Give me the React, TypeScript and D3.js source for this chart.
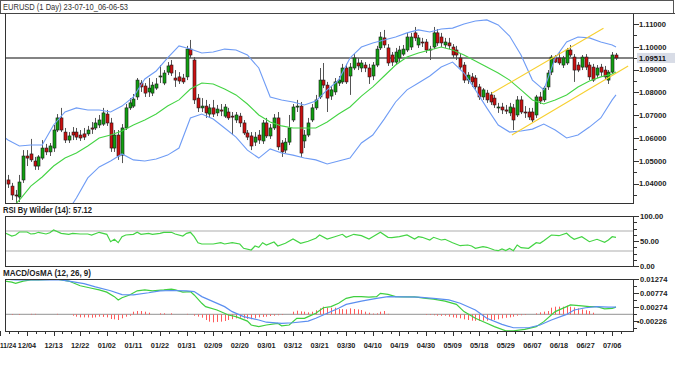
import React from 'react';
import * as d3 from 'd3';

// ---------- price data (daily candles, bar index 0..160) ----------
const openP = [
  1.0416,1.0389,1.0350,1.0341,1.0416,1.0521,1.0530,1.0499,1.0477,1.0512,
  1.0556,1.0539,1.0556,1.0635,1.0688,1.0626,1.0591,1.0626,1.0626,1.0613,
  1.0618,1.0618,1.0644,1.0644,1.0657,1.0661,1.0705,1.0666,1.0556,1.0613,
  1.0525,1.0644,1.0732,1.0740,1.0780,1.0841,1.0828,1.0802,1.0797,1.0819,
  1.0868,1.0841,1.0889,1.0920,1.0863,1.0868,1.0863,1.0868,1.0990,1.0942,
  1.0775,1.0732,1.0740,1.0705,1.0732,1.0710,1.0723,1.0696,1.0714,1.0696,
  1.0679,1.0696,1.0666,1.0622,1.0609,1.0582,1.0613,1.0587,1.0666,1.0609,
  1.0644,1.0688,1.0578,1.0547,1.0582,1.0679,1.0736,1.0740,1.0587,1.0613,
  1.0679,1.0732,1.0780,1.0854,1.0832,1.0784,1.0802,1.0841,1.0846,1.0907,
  1.0872,1.0907,1.0929,1.0907,1.0920,1.0907,1.0872,1.0920,1.0995,1.1039,
  1.0995,1.0964,1.0933,1.0951,1.0968,1.0986,1.0999,1.1061,1.1008,1.1021,
  1.1021,1.0986,1.0999,1.1061,1.1043,1.1008,1.1017,1.0999,1.0986,1.0951,
  1.0920,1.0854,1.0868,1.0863,1.0824,1.0780,1.0797,1.0789,1.0775,1.0732,
  1.0736,1.0723,1.0710,1.0732,1.0701,1.0767,1.0714,1.0714,1.0714,1.0701,
  1.0780,1.0767,1.0824,1.0889,1.0951,1.0951,1.0920,1.0929,1.0986,1.0955,
  1.0920,1.0911,1.0955,1.0920,1.0911,1.0876,1.0911,1.0898,1.0854,1.0889,
  1.0964,
];
const highP = [
  1.0438,1.0403,1.0372,1.0438,1.0547,1.0547,1.0596,1.0517,1.0525,1.0591,
  1.0574,1.0578,1.0657,1.0705,1.0732,1.0644,1.0626,1.0648,1.0644,1.0635,
  1.0644,1.0653,1.0670,1.0688,1.0701,1.0732,1.0723,1.0688,1.0635,1.0635,
  1.0661,1.0749,1.0775,1.0793,1.0863,1.0854,1.0841,1.0863,1.0846,1.0863,
  1.0920,1.0898,1.0933,1.0942,1.0898,1.0889,1.0881,1.1004,1.1030,1.0955,
  1.0793,1.0775,1.0767,1.0749,1.0767,1.0745,1.0749,1.0749,1.0732,1.0714,
  1.0714,1.0710,1.0679,1.0635,1.0626,1.0626,1.0635,1.0679,1.0688,1.0661,
  1.0705,1.0714,1.0591,1.0600,1.0701,1.0749,1.0767,1.0758,1.0635,1.0688,
  1.0749,1.0789,1.0907,1.0929,1.0846,1.0828,1.0863,1.0872,1.0925,1.0925,
  1.0929,1.0968,1.0951,1.0942,1.0933,1.0925,1.0933,1.1004,1.1065,1.1074,
  1.1012,1.0977,1.0995,1.1004,1.1008,1.1061,1.1061,1.1087,1.1052,1.1039,
  1.1034,1.1004,1.1087,1.1078,1.1061,1.1039,1.1039,1.1012,1.1004,1.0968,
  1.0933,1.0889,1.0885,1.0876,1.0837,1.0819,1.0811,1.0802,1.0789,1.0754,
  1.0754,1.0745,1.0754,1.0749,1.0784,1.0784,1.0740,1.0732,1.0732,1.0789,
  1.0802,1.0828,1.0898,1.0964,1.0964,1.0977,1.0960,1.0995,1.1008,1.0968,
  1.0933,1.0964,1.0968,1.0933,1.0925,1.0920,1.0925,1.0916,1.0898,1.0977,
  1.0973,
];
const lowP = [
  1.0381,1.0328,1.0315,1.0319,1.0403,1.0477,1.0495,1.0460,1.0460,1.0504,
  1.0525,1.0521,1.0539,1.0626,1.0626,1.0578,1.0578,1.0591,1.0591,1.0587,
  1.0591,1.0609,1.0618,1.0635,1.0644,1.0653,1.0653,1.0539,1.0539,1.0504,
  1.0490,1.0635,1.0723,1.0732,1.0767,1.0802,1.0780,1.0780,1.0784,1.0811,
  1.0841,1.0832,1.0876,1.0872,1.0824,1.0837,1.0837,1.0854,1.0951,1.0749,
  1.0714,1.0714,1.0688,1.0688,1.0692,1.0696,1.0696,1.0688,1.0679,1.0613,
  1.0666,1.0648,1.0613,1.0591,1.0547,1.0565,1.0574,1.0574,1.0600,1.0596,
  1.0635,1.0547,1.0517,1.0534,1.0569,1.0670,1.0714,1.0517,1.0556,1.0604,
  1.0670,1.0723,1.0771,1.0819,1.0714,1.0767,1.0789,1.0828,1.0837,1.0837,
  1.0789,1.0898,1.0898,1.0889,1.0889,1.0837,1.0854,1.0911,1.0986,1.0995,
  1.0916,1.0916,1.0920,1.0933,1.0960,1.0977,1.0986,1.1025,1.0995,1.0999,
  1.0973,1.0942,1.0990,1.1004,1.0999,1.0995,1.0990,1.0951,1.0942,1.0898,
  1.0841,1.0837,1.0824,1.0811,1.0767,1.0767,1.0754,1.0745,1.0732,1.0710,
  1.0705,1.0705,1.0696,1.0635,1.0692,1.0705,1.0688,1.0679,1.0670,1.0688,
  1.0749,1.0758,1.0811,1.0876,1.0929,1.0920,1.0907,1.0920,1.0955,1.0846,
  1.0889,1.0898,1.0898,1.0854,1.0846,1.0863,1.0872,1.0854,1.0837,1.0881,
  1.0942,
];
const closeP = [
  1.0398,1.0350,1.0346,1.0407,1.0521,1.0512,1.0504,1.0477,1.0517,1.0556,
  1.0539,1.0565,1.0635,1.0688,1.0635,1.0591,1.0609,1.0613,1.0604,1.0600,
  1.0604,1.0635,1.0639,1.0666,1.0679,1.0710,1.0666,1.0556,1.0613,1.0521,
  1.0644,1.0732,1.0754,1.0771,1.0854,1.0824,1.0797,1.0819,1.0832,1.0837,
  1.0872,1.0885,1.0916,1.0885,1.0854,1.0850,1.0846,1.0990,1.0964,1.0767,
  1.0732,1.0740,1.0710,1.0732,1.0705,1.0727,1.0718,1.0736,1.0688,1.0692,
  1.0701,1.0666,1.0622,1.0604,1.0565,1.0604,1.0591,1.0666,1.0609,1.0644,
  1.0688,1.0561,1.0539,1.0582,1.0644,1.0736,1.0740,1.0534,1.0613,1.0666,
  1.0732,1.0767,1.0854,1.0832,1.0775,1.0811,1.0846,1.0854,1.0907,1.0846,
  1.0911,1.0951,1.0916,1.0929,1.0907,1.0868,1.0920,1.0990,1.1043,1.1008,
  1.0929,1.0933,1.0977,1.0986,1.0990,1.1043,1.1043,1.1039,1.1039,1.1017,
  1.0986,1.0990,1.1061,1.1017,1.1017,1.1021,1.1004,1.0964,1.0964,1.0911,
  1.0854,1.0876,1.0846,1.0824,1.0780,1.0811,1.0767,1.0758,1.0745,1.0736,
  1.0723,1.0718,1.0736,1.0679,1.0767,1.0714,1.0710,1.0692,1.0679,1.0780,
  1.0762,1.0819,1.0885,1.0955,1.0933,1.0929,1.0951,1.0986,1.0964,1.0898,
  1.0898,1.0955,1.0911,1.0868,1.0854,1.0907,1.0889,1.0868,1.0889,1.0964,
  1.0951,
];
const lastPrice = 1.09511;

// ---------- Bollinger bands ----------
const upperBars = [-1,0,3,6,9,12,15,18,21,24,27,30,33,36,39,42,45,48,51,54,57,60,63,66,69,72,75,78,81,84,87,90,93,96,99,102,105,108,111,114,117,120,123,126,129,132,135,138,141,144,147,150,153,156,159,160];
const upperVals = [1.0604,1.0591,1.0565,1.0569,1.0569,1.0657,1.0714,1.0732,1.0723,1.0723,1.0714,1.0740,1.0780,1.0859,1.0894,1.0951,1.1004,1.0990,1.0973,1.0977,1.0990,1.0986,1.0964,1.0907,1.0780,1.0767,1.0758,1.0745,1.0762,1.0811,1.0854,1.0951,1.0999,1.1017,1.1030,1.1043,1.1061,1.1074,1.1065,1.1078,1.1082,1.1100,1.1113,1.1118,1.1096,1.1047,1.0964,1.0854,1.0811,1.0951,1.1021,1.1043,1.1039,1.1021,1.1008,1.0999];
const midBars = [0,3,6,9,12,15,18,21,24,27,30,33,36,39,42,45,48,51,54,57,60,63,66,69,72,75,78,81,84,87,90,93,96,99,102,105,108,111,114,117,120,123,126,129,132,135,138,141,144,147,150,153,156,159,160];
const midVals = [1.0275,1.0328,1.0389,1.0429,1.0477,1.0512,1.0534,1.0565,1.0600,1.0613,1.0631,1.0657,1.0679,1.0705,1.0740,1.0767,1.0815,1.0841,1.0837,1.0815,1.0789,1.0749,1.0701,1.0670,1.0653,1.0644,1.0644,1.0644,1.0670,1.0705,1.0736,1.0784,1.0824,1.0872,1.0920,1.0955,1.0973,1.0986,1.0999,1.0986,1.0964,1.0938,1.0911,1.0885,1.0854,1.0811,1.0767,1.0749,1.0767,1.0789,1.0824,1.0850,1.0868,1.0881,1.0889];
const lowerBars = [15,17,18,21,24,27,30,33,36,39,42,45,48,51,54,57,60,63,66,69,72,75,78,81,84,87,90,93,96,99,102,105,108,111,114,117,120,123,126,129,132,135,138,141,144,147,150,153,156,159,160];
const lowerVals = [1.0218,1.0311,1.0337,1.0425,1.0473,1.0499,1.0530,1.0504,1.0499,1.0508,1.0525,1.0556,1.0688,1.0705,1.0683,1.0644,1.0604,1.0547,1.0512,1.0552,1.0534,1.0525,1.0512,1.0504,1.0486,1.0499,1.0512,1.0578,1.0613,1.0683,1.0758,1.0811,1.0841,1.0872,1.0911,1.0933,1.0885,1.0811,1.0732,1.0657,1.0626,1.0631,1.0639,1.0661,1.0635,1.0600,1.0613,1.0648,1.0688,1.0767,1.0789];

// ---------- trend channel (yellow) ----------
const chanUpBars = [127.3, 156.7];
const chanUpVals = [1.0796, 1.1081];
const chanLoBars = [132.6, 163.2];
const chanLoVals = [1.0613, 1.0916];

// ---------- RSI(14) ----------
const rsiBars = [-1,1,2,3,5,6,7,8,10,11,12,14,16,17,19,21,22,24,26,27,28,29,30,31,33,34,35,37,38,40,41,43,44,46,47,48,49,50,51,54,56,57,59,61,62,64,65,66,67,68,70,71,73,75,77,79,81,82,84,86,88,89,91,93,95,96,98,100,101,103,105,107,108,109,111,112,114,115,117,119,121,122,123,125,126,128,129,130,131,132,133,134,135,137,139,140,141,143,145,147,148,149,151,153,155,157,158,159,160];
const rsiVals = [67,60,62,68,68,64,64.6,67.4,64,66.6,72,65.4,63.4,65.4,64,64,62,67.4,63.4,48.6,53.4,46.6,58.6,62,63.4,67.4,63.4,65.4,63.4,65.4,67.4,67.4,64,60,65.4,67.4,58.6,46.6,44,44,46.6,44,46.6,44,35.4,32,40,37.4,46.6,42,48,40,45.4,54,45.4,49.4,55.4,62,54,58.6,63.4,57.4,63.4,60.6,54,58.6,67.4,57.4,56.6,58.6,62,54,58.6,57.4,52,57.4,52,53.4,46.6,40.6,42,40,35.4,38.6,37.4,32,30.6,34,31,35,30.6,42,36.6,35.4,46.6,45.4,50.6,62,60.6,65.4,58.6,53.4,58.6,48.6,53.4,47.4,52,58.6,57.12];
const rsiLevels = [70, 30];
const rsiTicks = [100, 50, 0];

// ---------- MACD (12,26,9) ----------
const macdBars = [-1,1,2,4,6,8,11,13,14,16,19,22,24,26,28,29,30,32,34,36,38,41,43,44,46,48,49,51,52,55,58,60,63,64,66,68,71,72,74,76,78,79,81,83,85,87,89,91,93,95,97,98,100,102,104,107,110,112,115,118,120,123,126,128,131,133,136,139,141,144,147,148,151,153,155,157,159,160];
const macdVals = [0.0120,0.0116,0.0112,0.0120,0.0124,0.0124,0.0126,0.0127,0.0124,0.0120,0.0103,0.0094,0.0088,0.0080,0.0064,0.0052,0.0060,0.0070,0.0085,0.0088,0.0085,0.0088,0.0091,0.0088,0.0080,0.0082,0.0070,0.0040,0.0028,0.0016,-0.0002,-0.0008,-0.0024,-0.0038,-0.0044,-0.0038,-0.0032,-0.0041,-0.0038,-0.0014,-0.0014,-0.0008,0.0004,0.0024,0.0028,0.0040,0.0058,0.0064,0.0064,0.0062,0.0064,0.0076,0.0072,0.0064,0.0063,0.0063,0.0058,0.0055,0.0048,0.0036,0.0010,-0.0014,-0.0032,-0.0044,-0.0059,-0.0059,-0.0054,-0.0044,-0.0026,0.0010,0.0028,0.0034,0.0031,0.0028,0.0028,0.0020,0.0022,0.0026];
const sigBars = [-1,2,7,11,14,16,20,23,27,30,33,37,40,43,47,49,51,54,57,59,62,66,68,72,75,79,81,84,87,89,93,97,100,104,108,112,116,119,123,126,130,133,137,140,143,147,149,152,155,158,160];
const sigVals = [0.0127,0.0124,0.0124,0.0124,0.0124,0.0120,0.0111,0.0099,0.0085,0.0071,0.0070,0.0078,0.0085,0.0086,0.0085,0.0082,0.0064,0.0046,0.0028,0.0010,-0.0008,-0.0020,-0.0028,-0.0032,-0.0030,-0.0024,-0.0014,0.0004,0.0022,0.0036,0.0048,0.0058,0.0064,0.0063,0.0062,0.0058,0.0052,0.0040,0.0016,-0.0014,-0.0036,-0.0048,-0.0048,-0.0038,-0.0020,0.0000,0.0016,0.0024,0.0028,0.0026,0.0026];
const histBars = [-1,1,3,6,7,13,17,18,19,20,21,22,23,24,25,26,27,28,29,30,31,32,33,34,35,36,37,40,41,43,47,49,50,51,52,53,54,55,56,57,58,59,60,61,62,63,64,65,66,67,68,69,70,71,72,75,76,77,78,79,80,81,82,83,84,85,86,87,88,89,90,91,92,93,94,95,96,97,98,99,100,110,111,112,113,114,115,116,117,118,119,120,121,122,123,124,125,126,127,128,129,130,131,132,133,134,135,136,139,140,141,142,143,144,145,146,147,148,149,150,151,152,153,154];
const histVals = [-0.0003,-0.0002,-0.0002,0.0002,0.0002,0.0002,-0.00046,-0.00082,-0.00106,-0.00106,-0.0011,-0.00118,-0.00106,-0.00082,-0.0009,-0.00106,-0.00165,-0.00177,-0.00201,-0.00141,-0.00082,-0.00046,0.00098,0.00122,0.00122,0.00098,0.00062,0.0004,0.0004,0.0004,0.0002,-0.00046,-0.0008,-0.00118,-0.00201,-0.00261,-0.00285,-0.0027,-0.00261,-0.00237,-0.00201,-0.0017,-0.00141,-0.00118,-0.00141,-0.0016,-0.00177,-0.00141,-0.00106,-0.0009,-0.00082,-0.00058,-0.00046,-0.0003,-0.00022,0.00098,0.00134,0.0011,0.00098,0.00074,0.00098,0.0015,0.00218,0.00278,0.00242,0.0024,0.00242,0.00194,0.0019,0.00182,0.00218,0.00194,0.0018,0.00158,0.00098,0.00062,0.0003,0.00038,0.00098,0.00122,0.0002,-0.00022,-0.00022,-0.0003,-0.00046,-0.0005,-0.00046,-0.00082,-0.00106,-0.0012,-0.00141,-0.00177,-0.00201,-0.00225,-0.0023,-0.00237,-0.00225,-0.00225,-0.0021,-0.00201,-0.00177,-0.00141,-0.0012,-0.00106,-0.00082,-0.00046,-0.0003,-0.00022,0.00038,0.00074,0.001,0.00122,0.00242,0.00278,0.0028,0.00278,0.00314,0.00278,0.0025,0.00218,0.00182,0.0015,0.00122,0.00062];
const macdTicks = [0.01274, 0.00774, 0.00274, -0.00226];

// ---------- axes ----------
const priceTicks = [1.04, 1.05, 1.06, 1.07, 1.08, 1.09, 1.10, 1.11];
const dateLabels = ["11/24","12/04","12/13","12/22","01/02","01/11","01/22","01/31","02/09","02/20","03/01","03/12","03/21","03/30","04/10","04/19","04/30","05/09","05/18","05/29","06/07","06/18","06/27","07/06"];
const dateBars = [-2,5,12,19,26,33,40,47,54,61,68,75,82,89,96,103,110,117,124,131,138,145,152,159];

const titleText = "EURUSD (1 Day) 23-07-10_06-06-53";
const rsiTitle = "RSI By Wilder (14): 57.12";
const macdTitle = "MACD/OsMA (12, 26, 9)";

export default function App() {
  const W = 675, H = 366;
  const L = 5, R = 634;
  const mT = 13, mB = 203;
  const rT = 216, rB = 266;
  const cT = 279, cB = 331;

  const x = d3.scaleLinear().domain([0, 160]).range([8, 616]);
  const yP = d3.scaleLinear().domain([1.04, 1.11]).range([183.6, 24]);
  const yR = d3.scaleLinear().domain([0, 100]).range([266, 216]);
  const yM = d3.scaleLinear().domain([-0.00226, 0.01274]).range([320.7, 279]);

  const zip = (a: number[], b: number[]) => a.map((v, i) => [v, b[i]] as [number, number]).filter(d => d[1] !== undefined);
  const lineP = d3.line<[number, number]>().x(d => x(d[0])).y(d => yP(d[1]));
  const lineR = d3.line<[number, number]>().x(d => x(d[0])).y(d => yR(d[1]));
  const lineM = d3.line<[number, number]>().x(d => x(d[0])).y(d => yM(d[1]));

  const font = "'Liberation Sans', Arial, sans-serif";
  const axisText = { fontSize: 7.6, fontWeight: 700, fill: '#222' } as const;

  const minorPrice = d3.range(1.035, 1.1151, 0.005).filter(v => yP(v) > mT + 1 && yP(v) < mB - 1);
  const minorRsi = d3.range(0, 100.01, 12.5);
  const minorMacd = d3.range(-0.00476, 0.0128, 0.0025).filter(v => yM(v) >= cT && yM(v) <= cB);
  const minorDate = d3.range(-2, 163, 7 / 3);

  return (
    <svg width={W} height={H} style={{ position: 'absolute', left: 0, top: 0, background: '#fff' }} fontFamily={font}>
      <defs>
        <clipPath id="clipMain"><rect x={L} y={mT} width={R - L} height={mB - mT} /></clipPath>
        <clipPath id="clipRsi"><rect x={L} y={rT} width={R - L} height={rB - rT} /></clipPath>
        <clipPath id="clipMacd"><rect x={L} y={cT} width={R - L} height={cB - cT} /></clipPath>
      </defs>
      <rect x={0} y={0} width={W} height={H} fill="#fff" />

      {/* title box */}
      <rect x={0.5} y={0.5} width={672.5} height={12.5} fill="#fff" stroke="#555" strokeWidth={1} shapeRendering="crispEdges" />
      <text x={3} y={10} fontSize={9} fill="#333" textLength={125} lengthAdjust="spacingAndGlyphs">{titleText}</text>

      {/* ===== main panel ===== */}
      <g clipPath="url(#clipMain)">
        <line x1={L} x2={R} y1={yP(lastPrice)} y2={yP(lastPrice)} stroke="#5a5a5a" strokeWidth={1.6} />
        {closeP.map((c, i) => {
          const o = openP[i];
          const cx = Math.round(x(i)) + 0.5;
          const up = c >= o;
          const yTop = yP(Math.max(o, c));
          const yBot = yP(Math.min(o, c));
          return (
            <g key={i}>
              <line x1={cx} x2={cx} y1={yP(highP[i])} y2={yP(lowP[i])} stroke="#555" strokeWidth={1} />
              <rect x={cx - 1.5} y={yTop} width={3} height={Math.max(1, yBot - yTop)}
                fill={up ? '#11a011' : '#cc1010'} stroke="#1a1a1a" strokeWidth={0.6} />
            </g>
          );
        })}
        <path d={lineP(zip(upperBars, upperVals)) || ''} fill="none" stroke="#6f9cf5" strokeWidth={1.1} />
        <path d={lineP(zip(lowerBars, lowerVals)) || ''} fill="none" stroke="#6f9cf5" strokeWidth={1.1} />
        <path d={lineP(zip(midBars, midVals)) || ''} fill="none" stroke="#44d444" strokeWidth={1.1} />
        <path d={lineP(zip(chanUpBars, chanUpVals)) || ''} fill="none" stroke="#f7d030" strokeWidth={1.1} />
        <path d={lineP(zip(chanLoBars, chanLoVals)) || ''} fill="none" stroke="#f7d030" strokeWidth={1.1} />
      </g>
      <rect x={L + 0.5} y={mT + 0.5} width={R - L - 1} height={mB - mT} fill="none" stroke="#333" strokeWidth={1} shapeRendering="crispEdges" />
      <line x1={0} x2={W} y1={mT + 0.5} y2={mT + 0.5} stroke="#444" strokeWidth={1.2} shapeRendering="crispEdges" />
      {minorPrice.map((v, i) => (
        <line key={'mp' + i} x1={R} x2={R + 3} y1={Math.round(yP(v)) + 0.5} y2={Math.round(yP(v)) + 0.5} stroke="#333" shapeRendering="crispEdges" />
      ))}
      {priceTicks.map(v => (
        <g key={'pt' + v}>
          <line x1={R} x2={R + 5} y1={Math.round(yP(v)) + 0.5} y2={Math.round(yP(v)) + 0.5} stroke="#333" shapeRendering="crispEdges" />
          <text x={639} y={yP(v) + 2.8} {...axisText}>{v.toFixed(5)}</text>
        </g>
      ))}
      <rect x={637} y={yP(lastPrice) - 5} width={38} height={10} fill="#d8dce6" />
      <text x={639} y={yP(lastPrice) + 2.8} {...axisText} fill="#111">{lastPrice.toFixed(5)}</text>

      {/* ===== RSI panel ===== */}
      <text x={3} y={213} fontSize={8.6} fontWeight={700} fill="#222" textLength={89} lengthAdjust="spacingAndGlyphs">{rsiTitle}</text>
      <g clipPath="url(#clipRsi)">
        {rsiLevels.map(v => (
          <line key={'rl' + v} x1={L} x2={R} y1={yR(v)} y2={yR(v)} stroke="#c9c9c9" strokeWidth={1.4} />
        ))}
        <path d={lineR(zip(rsiBars, rsiVals)) || ''} fill="none" stroke="#44d444" strokeWidth={1.2} />
      </g>
      <rect x={L + 0.5} y={rT + 0.5} width={R - L - 1} height={rB - rT} fill="none" stroke="#333" strokeWidth={1} shapeRendering="crispEdges" />
      {minorRsi.map((v, i) => (
        <line key={'mr' + i} x1={R} x2={R + 3} y1={Math.round(yR(v)) + 0.5} y2={Math.round(yR(v)) + 0.5} stroke="#333" shapeRendering="crispEdges" />
      ))}
      {rsiTicks.map(v => (
        <g key={'rt' + v}>
          <line x1={R} x2={R + 5} y1={Math.round(yR(v)) + 0.5} y2={Math.round(yR(v)) + 0.5} stroke="#333" shapeRendering="crispEdges" />
          <text x={640} y={yR(v) + 2.8} {...axisText}>{v.toFixed(2)}</text>
        </g>
      ))}

      {/* ===== MACD panel ===== */}
      <text x={3} y={276} fontSize={8.6} fontWeight={700} fill="#222" textLength={88} lengthAdjust="spacingAndGlyphs">{macdTitle}</text>
      <g clipPath="url(#clipMacd)">
        <line x1={L} x2={R} y1={yM(0)} y2={yM(0)} stroke="#a8a8a8" strokeWidth={1.2} />
        {histBars.map((b, i) => (
          <line key={'h' + i} x1={Math.round(x(b)) + 0.5} x2={Math.round(x(b)) + 0.5} y1={yM(0)} y2={yM(histVals[i])} stroke="#ff5a5a" strokeWidth={1} />
        ))}
        <path d={lineM(zip(macdBars, macdVals)) || ''} fill="none" stroke="#3fcf3f" strokeWidth={1.2} />
        <path d={lineM(zip(sigBars, sigVals)) || ''} fill="none" stroke="#5b8ff0" strokeWidth={1.2} />
      </g>
      <rect x={L + 0.5} y={cT + 0.5} width={R - L - 1} height={cB - cT} fill="none" stroke="#333" strokeWidth={1} shapeRendering="crispEdges" />
      {minorMacd.map((v, i) => (
        <line key={'mm' + i} x1={R} x2={R + 3} y1={Math.round(yM(v)) + 0.5} y2={Math.round(yM(v)) + 0.5} stroke="#333" shapeRendering="crispEdges" />
      ))}
      {macdTicks.map(v => (
        <g key={'mt' + v}>
          <line x1={R} x2={R + 5} y1={Math.round(yM(v)) + 0.5} y2={Math.round(yM(v)) + 0.5} stroke="#333" shapeRendering="crispEdges" />
          <text x={v < 0 ? 637 : 640} y={yM(v) + 2.8} {...axisText}>{v.toFixed(5)}</text>
        </g>
      ))}

      {/* ===== date axis ===== */}
      {minorDate.filter(b => x(b) > L && x(b) < R).map((b, i) => (
        <line key={'md' + i} x1={Math.round(x(b)) + 0.5} x2={Math.round(x(b)) + 0.5} y1={cB} y2={cB + 3} stroke="#333" shapeRendering="crispEdges" />
      ))}
      {dateLabels.map((lab, i) => {
        const bx = x(dateBars[i]);
        const edge = bx < 9;
        return (
          <g key={'d' + i}>
            {bx > 0 && (
              <line x1={Math.round(bx) + 0.5} x2={Math.round(bx) + 0.5} y1={cB} y2={cB + 5} stroke="#333" shapeRendering="crispEdges" />
            )}
            <text x={edge ? 0 : bx} y={347.5} textAnchor={edge ? 'start' : 'middle'} fontSize={edge ? 6.6 : 7.3} fontWeight={700} fill="#222">{lab}</text>
          </g>
        );
      })}
    </svg>
  );
}
